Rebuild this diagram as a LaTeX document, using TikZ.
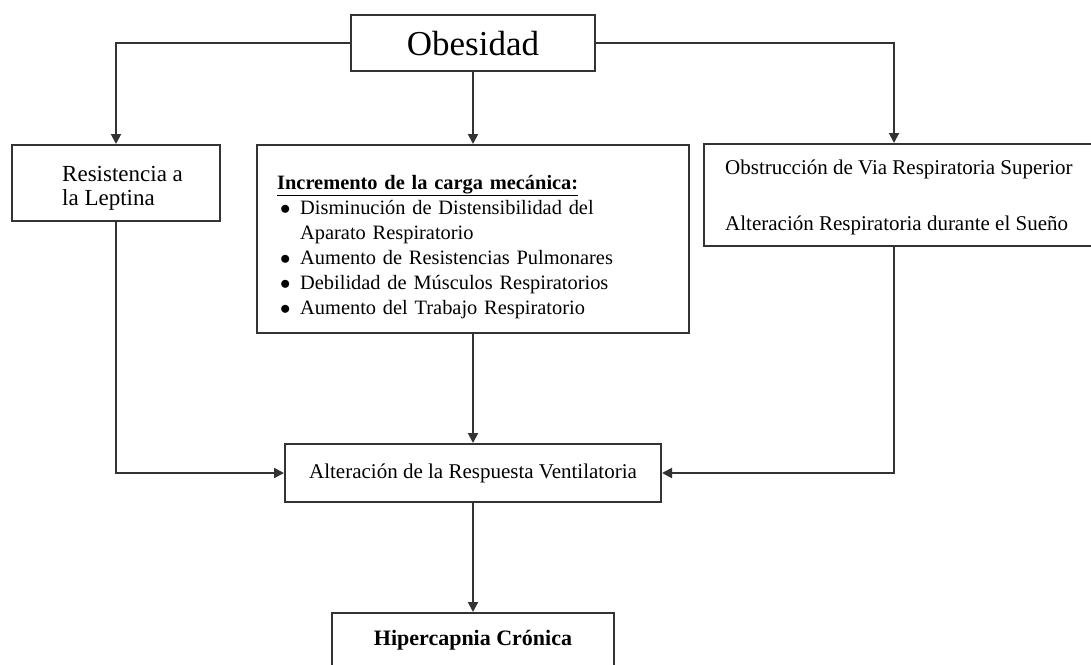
\documentclass[tikz,border=0pt]{standalone}
\usepackage{fontspec}
\setmainfont{Liberation Serif}
\usetikzlibrary{
    arrows.meta,
    positioning,
    calc
}
\tikzset{
    % Colors
    line gray/.style={black!80},
    %
    % Boxes and text
    box/.style={draw=black!80, line width=2pt, rectangle, inner sep=0pt},
    single line/.style={text height=15pt, text depth=4pt},
    txt/.style={inner sep=0pt, align=left, anchor=north west},
    %
    % Arrows
    arrow tip/.tip={Triangle[width=10pt,length=10pt]},
    arr/.style={->,>={arrow tip}},
    conn/.style={line gray, line width=2pt}
}
\tikzstyle{every node}=[font=\fontsize{21}{25}\selectfont]
\newcommand{\bul}{\makebox[23pt][l]{\hspace{3pt}$\bullet$}}

\begin{document}
\begin{tikzpicture}[x=1pt, y=-1pt]
    \clip (0,0) rectangle (1091,664);
    \node[box, minimum width=244pt, minimum height=56pt, font=\fontsize{35}{40}\selectfont, text height=24pt, text depth=0pt] (obes) at (473,43) {Obesidad};
    \node[box, minimum width=208pt, minimum height=76pt] (resis) at (116,183) {};
    \node[txt, font=\fontsize{23}{24}\selectfont] (resis text) at (62,166) {Resistencia a\\la Leptina};
    \node[box, minimum width=432pt, minimum height=188pt] (mech) at (473,239) {};
    \node[txt, text width=400pt, font=\fontsize{20.4}{25}\selectfont] (mech text) at (277,175) {\underline{\textbf{Incremento de la carga mecánica:}}\\
        \bul Disminución de Distensibilidad del\\
        \hspace*{23pt}Aparato Respiratorio\\
        \bul Aumento de Resistencias Pulmonares\\
        \bul Debilidad de Músculos Respiratorios\\
        \bul Aumento del Trabajo Respiratorio};
    \node[box, minimum width=396pt, minimum height=102pt] (sleep) at (902,195) {};
    \node[txt] (sleep text) at (725,160) {Obstrucción de Via Respiratoria Superior\\[31pt]Alteración Respiratoria durante el Sueño};
    \node[box, single line, minimum width=376pt, minimum height=58pt] (alt) at (473,473) {Alteración de la Respuesta Ventilatoria};
    \node[box, single line, minimum width=282pt, minimum height=54pt, font=\bfseries\fontsize{22}{25}\selectfont] (hip) at (473,640) {Hipercapnia Crónica};
    \draw[conn, arr] (obes.west) -| (resis.north);
    \draw[conn, arr] (obes.south) -- (mech.north);
    \draw[conn, arr] (obes.east) -| ([xshift=191pt]sleep.north west);
    \draw[conn, arr] (resis.south) |- (alt.west);
    \draw[conn, arr] (mech.south) -- (alt.north);
    \draw[conn, arr] ([xshift=191pt]sleep.south west) |- (alt.east);
    \draw[conn, arr] (alt.south) -- (hip.north);
\end{tikzpicture}
\end{document}
